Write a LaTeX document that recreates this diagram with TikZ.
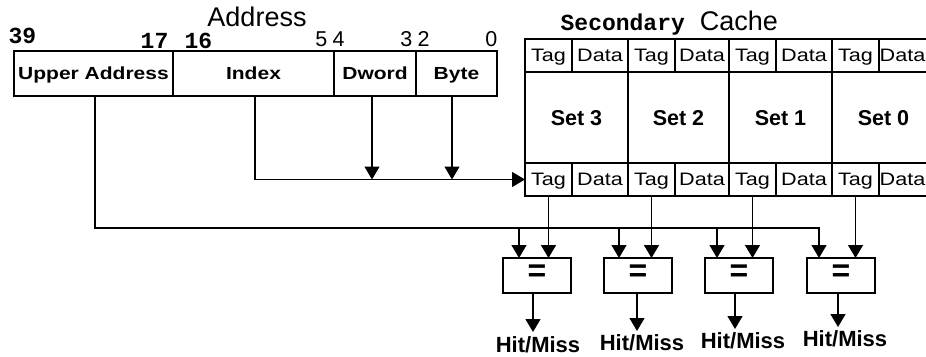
\documentclass[tikz,border=0pt]{standalone}
\usepackage{fontspec}
\setmainfont{Liberation Sans}
\newfontfamily\wide[FakeStretch=1.2]{Liberation Sans}
\newfontfamily\cour{Liberation Mono}
\usetikzlibrary{arrows.meta}
\begin{document}
\begin{tikzpicture}[x=1pt,y=-1pt,line width=1.35pt,
  arr/.style={-{Triangle[width=15pt,length=13pt]}},
  box/.style={draw, inner sep=0pt, outer sep=0pt, anchor=north west},
  addr/.style={box, minimum height=45pt, font=\wide\bfseries\fontsize{17.5}{17.5}\selectfont, text height=12.5pt, text depth=0pt},
  tcell/.style={box, minimum height=33pt, font=\wide\fontsize{18}{18}\selectfont, text height=12.9pt, text depth=0pt},
  setcell/.style={box, minimum height=91pt, font=\bfseries\fontsize{21.5}{21.5}\selectfont, text height=15.4pt, text depth=0pt},
  cmp/.style={draw, inner sep=0pt, outer sep=0pt, minimum width=68pt, minimum height=35pt, anchor=north west, font=\bfseries\fontsize{32}{32}\selectfont},
  hm/.style={anchor=base, inner sep=0pt, font=\bfseries\fontsize{22}{22}\selectfont},
  bitc/.style={inner sep=0pt, font=\cour\bfseries\fontsize{23}{23}\selectfont},
  bits/.style={inner sep=0pt, font=\fontsize{21.5}{21.5}\selectfont},
  ttl/.style={inner sep=0pt, anchor=base, font=\fontsize{27}{27}\selectfont}
]
\useasboundingbox (0,0) rectangle (926,356);

% Address register
\node[ttl] (addrtitle) at (257,27) {Address};
\node[addr, minimum width=159pt] (upper) at (14,51) {Upper Address};
\node[addr, minimum width=161pt] (index) at (173,51) {Index};
\node[addr, minimum width=82pt] (dword) at (334,51) {Dword};
\node[addr, minimum width=81pt] (byte) at (416,51) {Byte};

% bit numbers
\node[bitc, anchor=base west] (b39) at (8,43) {39};
\node[bitc, anchor=base east] (b17) at (169,48) {17};
\node[bitc, anchor=base west] (b16) at (184,48) {16};
\node[bits, anchor=base east] (b5) at (328,46) {5};
\node[bits, anchor=base west] (b4) at (332,46) {4};
\node[bits, anchor=base east] (b3) at (413,46) {3};
\node[bits, anchor=base west] (b2) at (417,46) {2};
\node[bits, anchor=base east] (b0) at (498,46) {0};

% Secondary cache
\node[inner sep=0pt, anchor=base west] (cachetitle) at (560,30)
  {{\cour\bfseries\fontsize{23}{23}\selectfont Secondary}\hspace{15pt}{\fontsize{27}{27}\selectfont Cache}};

\foreach \s/\L/\W/\P in {3/525/103/0, 2/628/101/0, 1/729/103/0, 0/832/103/-9} {
  \node[tcell, minimum width=47pt] (tt\s) at (\L,39) {Tag};
  \node[tcell, minimum width={\W pt-47pt}] (dt\s) at (\L+47,39) {\hspace*{\P pt}Data};
  \node[setcell, minimum width=\W pt] (set\s) at (\L,72) {Set \s};
  \node[tcell, minimum width=47pt] (tb\s) at (\L,163) {Tag};
  \node[tcell, minimum width={\W pt-47pt}] (db\s) at (\L+47,163) {\hspace*{\P pt}Data};
}

% comparators and outputs
\foreach \s/\C/\A/\O/\T/\X/\H in {3/503/519/533/332/538/352, 2/604/619/637/331/642/350, 1/705/717/735/329/743/348, 0/807/819/838/327/845/346} {
  \node[cmp] (cmp\s) at (\C,258) {\raisebox{4pt}{=}};
  \draw[arr] (tb\s.south) -- (tb\s.south |- cmp\s.north);
  \coordinate (bus\s) at (\A,228);
  \draw[arr] (bus\s) -- (bus\s |- cmp\s.north);
  \coordinate (out\s) at (\O,\T);
  \draw[arr] (out\s |- cmp\s.south) -- (out\s);
  \node[hm] (hm\s) at (\X,\H) {Hit/Miss};
}

% address connectors
\draw ([xshift=1.5pt]upper.south) |- ([xshift=1pt]bus0);
\draw[arr] ([xshift=1.5pt]index.south) |- (tb3.west);
\draw[arr] ([xshift=-3pt]dword.south) -- ([xshift=-3pt]dword.south |- tb3.west);
\draw[arr] ([xshift=-4.5pt]byte.south) -- ([xshift=-4.5pt]byte.south |- tb3.west);
\end{tikzpicture}
\end{document}
